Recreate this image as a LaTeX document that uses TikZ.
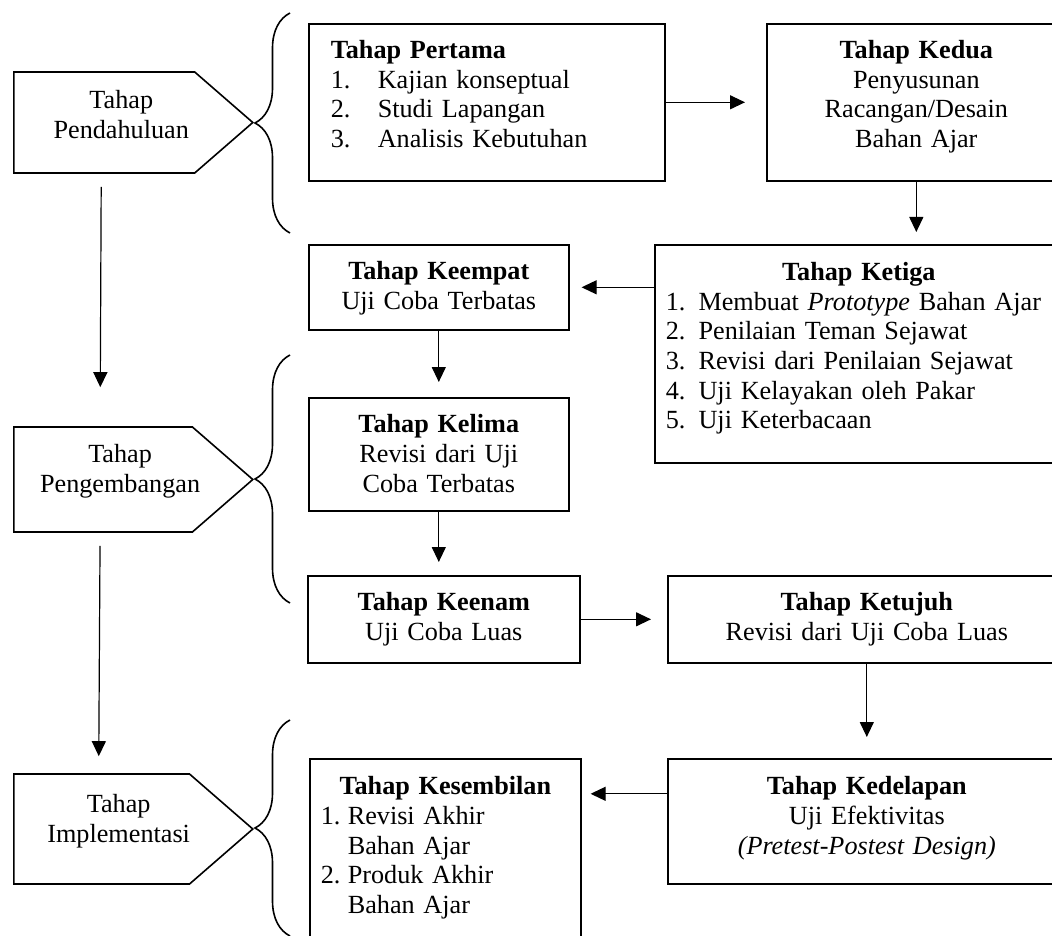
\documentclass[tikz,border=0pt]{standalone}
\usepackage{fontspec}
\setmainfont{Liberation Serif}
\usepackage{tikz}
\usetikzlibrary{arrows.meta,shapes.symbols,decorations.pathreplacing}
\newcommand{\tahap}[1]{\textbf{Tahap #1}}
\newcommand{\nomor}[2][23.5pt]{\makebox[#1][l]{#2}}
\tikzset{
  kotak/.style={draw=black,line width=0.8pt,anchor=north west,inner xsep=0pt,inner ysep=0pt,align=center,text height=17.5pt},
  daftar/.style={kotak,align=left,inner xsep=5.5pt},
  fase/.style={signal,signal to=east,signal pointer angle=82,draw=black,line width=0.8pt,anchor=west,minimum width=119.5pt},
  kurung/.style={decorate,decoration={brace,amplitude=17.5pt},line width=0.8pt},
  arr/.style={-{Triangle[length=7.5pt,width=7pt]},draw=black,line width=0.6pt}
}

\begin{document}
\begin{tikzpicture}[x=0.5pt,y=-0.5pt,font=\fontsize{13.1}{14.8}\selectfont]
  \useasboundingbox (0,0) rectangle (1052,935);
  \clip (0,0) rectangle (1052,935);

  \node[fase,minimum height=50.5pt,label={[align=center,xshift=8.5pt,yshift=4pt]center:{Tahap\\Pendahuluan}}] (pendahuluan) at (13,122.5) {};
  \node[fase,minimum height=52.5pt,label={[align=center,xshift=8.5pt,yshift=4pt]center:{Tahap\\Pengembangan}}] (pengembangan) at (13,479.5) {};
  \node[fase,minimum height=55pt,label={[align=center,xshift=8.5pt,yshift=4pt]center:{Tahap\\Implementasi}}] (implementasi) at (13,829) {};

  \draw[kurung] (290,233) -- (290,13);
  \draw[kurung] (290,603) -- (290,355);
  \draw[kurung] (290,936) -- (290,720);

  \node[daftar,inner xsep=11pt,text width=156pt,text depth=61pt] (pertama) at (308,23)
    {\tahap{Pertama}\\ \nomor{1.}Kajian konseptual\\ \nomor{2.}Studi Lapangan\\ \nomor{3.}Analisis Kebutuhan};
  \node[kotak,text width=149.5pt,text depth=61pt] (kedua) at (766,23)
    {\tahap{Kedua}\\Penyusunan\\Racangan/Desain\\Bahan Ajar};
  \node[daftar,text width=193pt,text height=18pt,text depth=91pt] (ketiga) at (654,244)
    {\makebox[\linewidth]{\tahap{Ketiga}}\\
     1. Membuat \textit{Prototype} Bahan Ajar\\
     2. Penilaian Teman Sejawat\\
     3. Revisi dari Penilaian Sejawat\\
     4. Uji Kelayakan oleh Pakar\\
     5. Uji Keterbacaan};
  \node[kotak,text width=130pt,text depth=25pt] (keempat) at (308,244)
    {\tahap{Keempat}\\Uji Coba Terbatas};
  \node[kotak,text width=130pt,text depth=39pt] (kelima) at (308,397)
    {\tahap{Kelima}\\Revisi dari Uji\\Coba Terbatas};
  \node[kotak,text width=136pt,text depth=26pt] (keenam) at (307,575)
    {\tahap{Keenam}\\Uji Coba Luas};
  \node[kotak,text width=199pt,text depth=26pt] (ketujuh) at (667,575)
    {\tahap{Ketujuh}\\Revisi dari Uji Coba Luas};
  \node[kotak,text width=199pt,text height=18pt,text depth=44.5pt] (kedelapan) at (667,758)
    {\tahap{Kedelapan}\\Uji Efektivitas\\\textit{(Pretest-Postest Design)}};
  \node[daftar,text width=124.5pt,text height=18pt,text depth=78pt] (kesembilan) at (309,758)
    {\makebox[\linewidth]{\tahap{Kesembilan}}\\
     \nomor[13.5pt]{1.}Revisi Akhir\\
     \hspace*{13.5pt}Bahan Ajar\\
     \nomor[13.5pt]{2.}Produk Akhir\\
     \hspace*{13.5pt}Bahan Ajar};

  \draw[arr,shorten <=6.5pt,shorten >=19.5pt] ([xshift=-1.5pt]pendahuluan.south) -- ([xshift=-1.5pt]pengembangan.north);
  \draw[arr,shorten <=6.5pt,shorten >=8.5pt] ([xshift=-1.5pt]pengembangan.south) -- ([xshift=-1.5pt]implementasi.north);

  \draw[arr,shorten >=10.5pt] (pertama) -- (kedua);
  \draw[arr,shorten >=6pt] (kedua.south) -- (kedua.south |- ketiga.north);
  \draw[arr,shorten >=6pt] (ketiga.west |- keempat.east) -- (keempat.east);
  \draw[arr,shorten >=7.5pt] (keempat) -- (kelima);
  \draw[arr,shorten >=6.5pt] (kelima.south) -- (kelima.south |- keenam.north);
  \draw[arr,shorten >=8pt] (keenam) -- (ketujuh);
  \draw[arr,shorten >=10.5pt] (ketujuh) -- (kedelapan);
  \draw[arr,shorten >=4.5pt] ([yshift=13.75pt]kedelapan.west) -- ([yshift=13.75pt]kedelapan.west -| kesembilan.east);
\end{tikzpicture}
\end{document}
